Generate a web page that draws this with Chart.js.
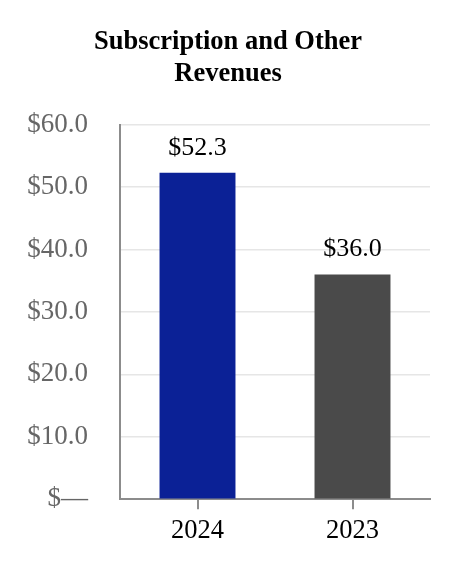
<!DOCTYPE html>
<html>
<head>
<meta charset="utf-8">
<script src="https://cdn.jsdelivr.net/npm/chart.js@4"></script>
<style>
  html, body { margin: 0; padding: 0; background: #FFFFFF; }
  #box { width: 460px; height: 576px; }
</style>
</head>
<body>
<div id="box"><canvas id="ingresos"></canvas></div>
<script>
// datos
const years = ["2024", "2023"];
const revenues = [52.3, 36.0];
const barColors = ["#0B2196", "#4A4A4A"];
const yTickLabels = ["$\u2014", "$10.0", "$20.0", "$30.0", "$40.0", "$50.0", "$60.0"];
const titleLines = ["Subscription and Other", "Revenues"];

const SERIF = "'Liberation Serif', 'Times New Roman', serif";

// etiquetas encima de cada barra
const barLabels = {
    id: "barLabels",
    afterDatasetsDraw(chart) {
        const ctx = chart.ctx;
        const meta = chart.getDatasetMeta(0);
        ctx.save();
        ctx.font = "26px " + SERIF;
        ctx.fillStyle = "#000000";
        ctx.textAlign = "center";
        ctx.textBaseline = "bottom";
        meta.data.forEach((bar, i) => {
            ctx.fillText("$" + revenues[i].toFixed(1), bar.x, bar.y - 12);
        });
        ctx.restore();
    }
};

new Chart(document.getElementById("ingresos"), {

    type: "bar",

    data: {
        labels: years,
        datasets: [{
            data: revenues,
            backgroundColor: barColors,
            borderWidth: 0,
            barPercentage: 0.49,
            categoryPercentage: 1
        }]
    },

    plugins: [barLabels],

    options: {

        responsive: true,
        maintainAspectRatio: false,
        animation: false,

        layout: {
            padding: { top: 26, right: 30, bottom: 23, left: 26 }
        },

        plugins: {
            legend: { display: false },
            tooltip: { enabled: false },
            title: {
                display: true,
                text: titleLines,
                color: "#000000",
                font: { family: SERIF, size: 26.5, weight: "bold", lineHeight: 1.2 },
                padding: { top: 0, bottom: 35 }
            }
        },

        scales: {

            x: {
                border: { color: "#8C8C8C", width: 2 },
                grid: {
                    offset: false,
                    drawOnChartArea: false,
                    drawTicks: true,
                    tickLength: 10,
                    color: "#8C8C8C",
                    lineWidth: 2
                },
                ticks: {
                    color: "#000000",
                    padding: 6,
                    font: { family: SERIF, size: 26.5 }
                }
            },

            y: {
                min: 0,
                max: 60,
                afterFit: scale => { scale.width = 94; },
                border: { color: "#8C8C8C", width: 2 },
                grid: {
                    color: "#E6E6E6",
                    lineWidth: 1.5,
                    drawTicks: false
                },
                ticks: {
                    stepSize: 10,
                    padding: 32,
                    color: "#666666",
                    font: { family: SERIF, size: 27 },
                    callback: (value, i) => yTickLabels[i]
                }
            }

        }

    }

});
</script>
</body>
</html>
